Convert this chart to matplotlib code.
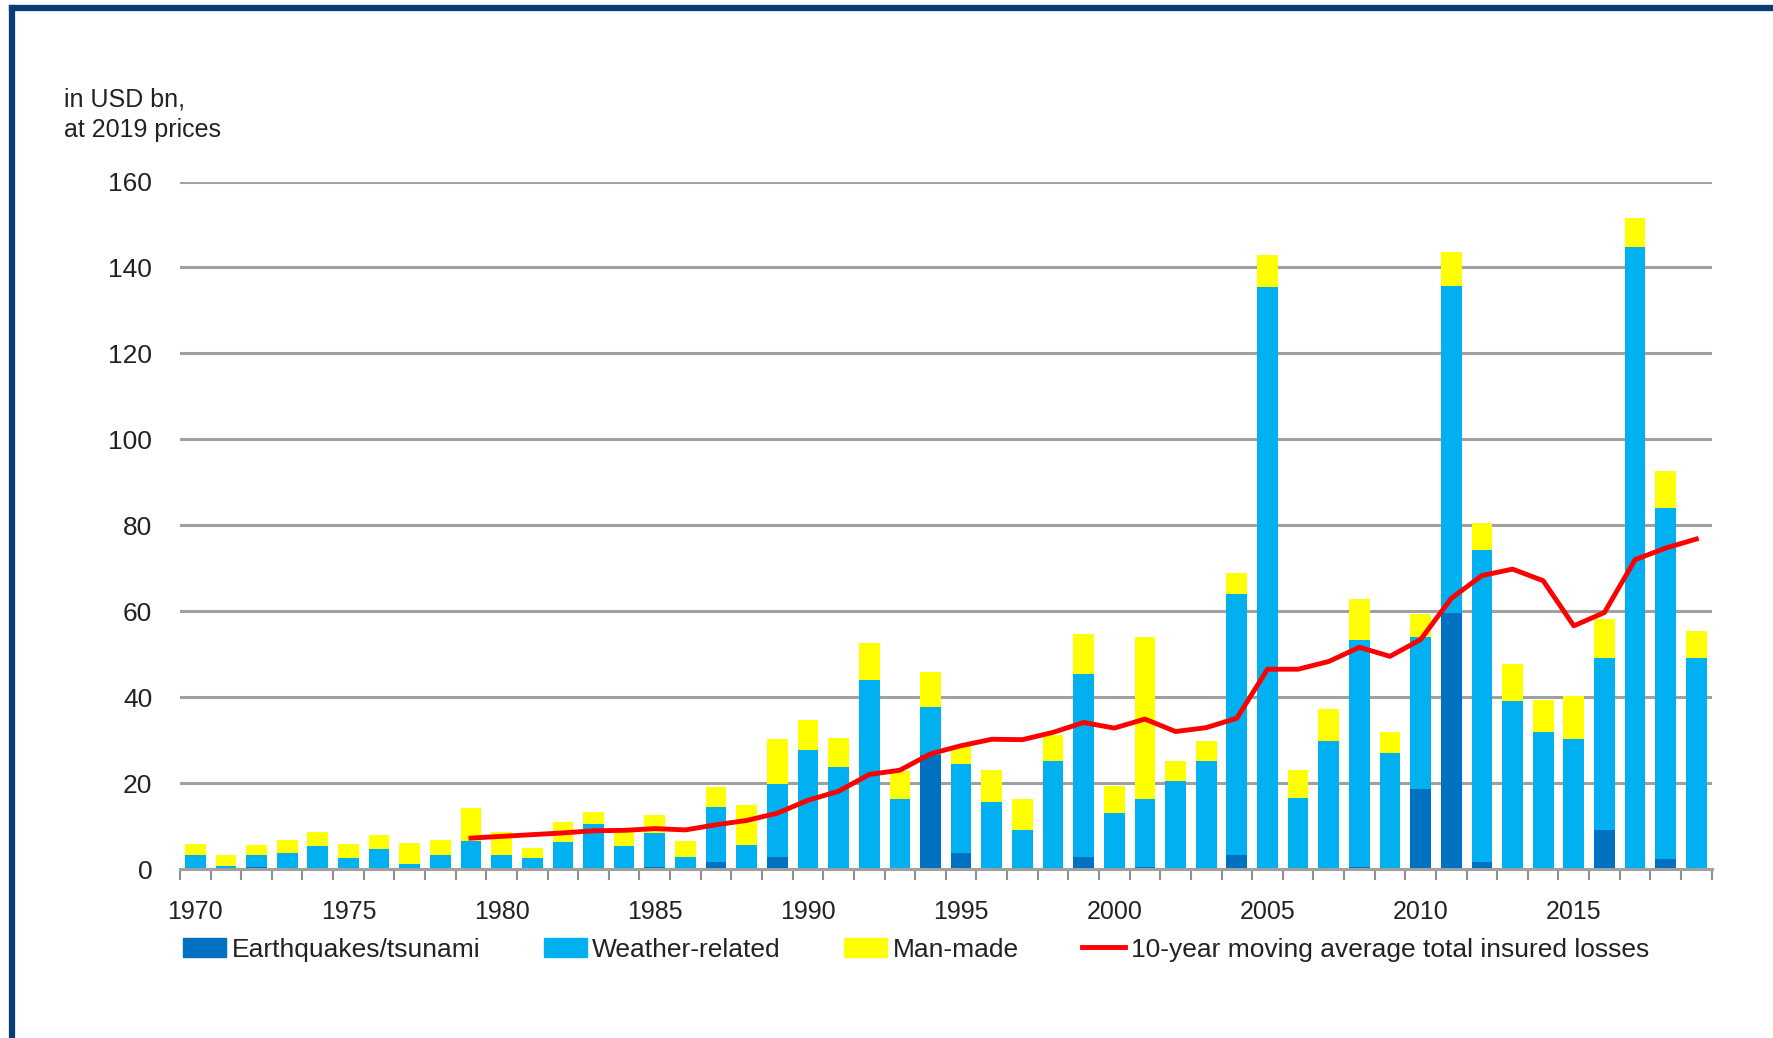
import numpy as np
import matplotlib.pyplot as plt
from matplotlib.patches import Patch
from matplotlib.lines import Line2D

plt.rcParams['font.family'] = ['Liberation Sans', 'DejaVu Sans']

years = list(range(1970, 2020))

# insured losses, USD bn at 2019 prices
earthquakes = [0, 0, 0.5, 0, 0, 0, 0.2, 0, 0, 0,
               0, 0, 0, 0, 0, 0.5, 0, 1.6, 0, 2.9,
               0, 0, 0, 0, 26.6, 3.7, 0, 0, 0, 2.9,
               0, 0.5, 0, 0.3, 3.3, 0.3, 0.2, 0.3, 0.5, 0.3,
               18.6, 59.6, 1.7, 0, 0.2, 0.2, 9.1, 0, 2.3, 0]
weather = [3.3, 0.8, 2.8, 3.8, 5.4, 2.5, 4.4, 1.2, 3.3, 6.6,
           3.3, 2.5, 6.4, 10.4, 5.4, 7.8, 2.7, 12.9, 5.6, 16.9,
           27.7, 23.8, 43.9, 16.4, 11.1, 20.7, 15.6, 9.1, 25.2, 42.4,
           13.0, 15.8, 20.5, 24.9, 60.7, 135.2, 16.4, 29.5, 52.9, 26.8,
           35.4, 76.0, 72.5, 39.1, 31.6, 30.1, 40.1, 144.8, 81.8, 49.2]
man_made = [2.6, 2.4, 2.2, 2.9, 3.3, 3.4, 3.4, 4.8, 3.4, 7.5,
            5.3, 2.4, 4.5, 2.9, 3.4, 4.3, 3.8, 4.6, 9.2, 10.4,
            6.9, 6.8, 8.6, 6.3, 8.2, 4.3, 7.4, 7.2, 6.1, 9.4,
            6.4, 37.6, 4.7, 4.6, 5.0, 7.5, 6.5, 7.5, 9.4, 4.7,
            5.3, 8.1, 6.4, 8.7, 7.6, 9.9, 9.1, 6.8, 8.6, 6.1]

# 10-year moving average, 1979-2019
ma_years = list(range(1979, 2020))
moving_avg = [7.2, 7.6, 8.0, 8.4, 8.9, 9.0, 9.4, 9.1, 10.3, 11.3,
              13.0, 16.0, 18.1, 22.0, 23.0, 26.8, 28.7, 30.2, 30.1, 31.8,
              34.1, 32.8, 34.9, 32.0, 32.9, 35.1, 46.5, 46.5, 48.3, 51.6,
              49.5, 53.4, 63.0, 68.3, 69.8, 67.1, 56.6, 59.7, 72.0, 74.7,
              76.8]

c_eq = '#0070C0'
c_weather = '#00B0F0'
c_man = '#FFFF00'
c_ma = '#FF0000'
grid_c = '#A0A0A0'

fig = plt.figure(figsize=(17.73, 10.38), dpi=100)
ax = fig.add_axes([0.1015, 0.1628, 0.8639, 0.6623])

x = np.arange(len(years))
eq = np.array(earthquakes)
we = np.array(weather)
mm = np.array(man_made)
w = 0.675
ax.bar(x, eq, w, color=c_eq, zorder=2)
ax.bar(x, we, w, bottom=eq, color=c_weather, zorder=2)
ax.bar(x, mm, w, bottom=eq + we, color=c_man, zorder=2)

xm = np.array(ma_years) - years[0]
ax.plot(xm, moving_avg, color=c_ma, lw=3.5, zorder=3)

ax.set_xlim(-0.5, len(years) - 0.5)
ax.set_ylim(0, 160)
ax.set_yticks(range(0, 161, 20))
ax.yaxis.grid(True, color=grid_c, lw=2.2, zorder=0)
ax.set_axisbelow(True)
ax.tick_params(axis='y', length=0, pad=20, labelsize=19, labelcolor='#222222')

ax.set_xticks(x[::5])
ax.set_xticklabels([str(y) for y in years[::5]])
ax.set_xticks(np.arange(-0.5, len(years), 1), minor=True)
ax.tick_params(axis='x', which='major', length=0, pad=22, labelsize=18, labelcolor='#222222')
ax.tick_params(axis='x', which='minor', length=8, width=1.5, color='#909090')

for s in ['top', 'right', 'left']:
    ax.spines[s].set_visible(False)
ax.spines['bottom'].set_color(grid_c)
ax.spines['bottom'].set_linewidth(2.2)

fig.text(0.036, 0.916, 'in USD bn,\nat 2019 prices', fontsize=18, color='#222222',
         va='top', ha='left', linespacing=1.35)

handles = [Patch(color=c_eq), Patch(color=c_weather), Patch(color=c_man),
           Line2D([], [], color=c_ma, lw=3.5)]
labels = ['Earthquakes/tsunami', 'Weather-related', 'Man-made',
          '10-year moving average total insured losses']
fig.legend(handles, labels, ncol=4, loc='center left', bbox_to_anchor=(0.09, 0.085),
           frameon=False, fontsize=19, handlelength=1.63, handleheight=0.75,
           handletextpad=0.21, columnspacing=2.4, labelcolor='#222222')

# frame of the original figure (only top and left edges visible)
fig.add_artist(Line2D([0.0068, 1.0], [0.9923, 0.9923], color='#0a3d78', lw=4.5))
fig.add_artist(Line2D([0.0068, 0.0068], [0.0, 0.9923], color='#0a3d78', lw=4.5))

fig.savefig('out.png', dpi=100)
